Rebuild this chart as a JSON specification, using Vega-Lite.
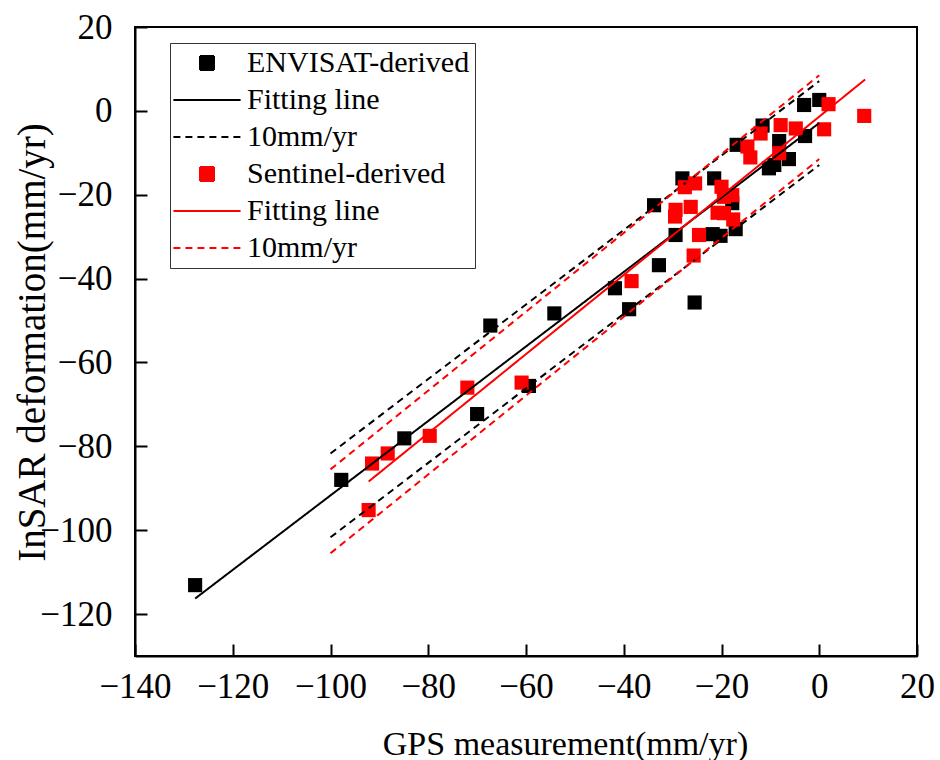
{
  "$schema": "https://vega.github.io/schema/vega-lite/v6.json",
  "width": 782,
  "height": 629,
  "autosize": {"type": "none"},
  "padding": {"left": 135, "top": 27, "right": 23, "bottom": 104},
  "background": "white",
  "config": {
    "font": "Liberation Serif",
    "view": {"stroke": "black", "strokeWidth": 2},
    "axis": {
      "domainColor": "black", "domainWidth": 2,
      "tickColor": "black", "tickWidth": 2, "tickSize": -12,
      "labelColor": "black", "labelFont": "Liberation Serif", "labelFontSize": 35, "labelOverlap": false, "labelFlush": false,
      "titleColor": "black", "titleFont": "Liberation Serif", "titleFontWeight": "normal",
      "grid": false
    }
  },
  "datasets": {
    "points": [
      {"gps": -127.7, "insar": -113.1, "series": "ENVISAT-derived"},
      {"gps": -97.8, "insar": -88.0, "series": "ENVISAT-derived"},
      {"gps": -84.9, "insar": -78.1, "series": "ENVISAT-derived"},
      {"gps": -70.0, "insar": -72.3, "series": "ENVISAT-derived"},
      {"gps": -67.3, "insar": -51.2, "series": "ENVISAT-derived"},
      {"gps": -59.4, "insar": -65.6, "series": "ENVISAT-derived"},
      {"gps": -54.2, "insar": -48.3, "series": "ENVISAT-derived"},
      {"gps": -41.8, "insar": -42.3, "series": "ENVISAT-derived"},
      {"gps": -38.9, "insar": -47.3, "series": "ENVISAT-derived"},
      {"gps": -33.8, "insar": -22.5, "series": "ENVISAT-derived"},
      {"gps": -32.8, "insar": -36.8, "series": "ENVISAT-derived"},
      {"gps": -29.4, "insar": -29.6, "series": "ENVISAT-derived"},
      {"gps": -28.0, "insar": -16.1, "series": "ENVISAT-derived"},
      {"gps": -25.5, "insar": -45.7, "series": "ENVISAT-derived"},
      {"gps": -21.8, "insar": -29.4, "series": "ENVISAT-derived"},
      {"gps": -21.5, "insar": -16.1, "series": "ENVISAT-derived"},
      {"gps": -20.2, "insar": -29.8, "series": "ENVISAT-derived"},
      {"gps": -17.8, "insar": -22.0, "series": "ENVISAT-derived"},
      {"gps": -17.1, "insar": -28.2, "series": "ENVISAT-derived"},
      {"gps": -16.9, "insar": -8.1, "series": "ENVISAT-derived"},
      {"gps": -11.6, "insar": -3.5, "series": "ENVISAT-derived"},
      {"gps": -10.3, "insar": -13.7, "series": "ENVISAT-derived"},
      {"gps": -9.2, "insar": -12.9, "series": "ENVISAT-derived"},
      {"gps": -8.2, "insar": -7.2, "series": "ENVISAT-derived"},
      {"gps": -6.2, "insar": -11.5, "series": "ENVISAT-derived"},
      {"gps": -3.1, "insar": 1.4, "series": "ENVISAT-derived"},
      {"gps": -2.9, "insar": -6.0, "series": "ENVISAT-derived"},
      {"gps": 0.0, "insar": 2.6, "series": "ENVISAT-derived"},
      {"gps": -92.2, "insar": -95.2, "series": "Sentinel-derived"},
      {"gps": -91.5, "insar": -84.1, "series": "Sentinel-derived"},
      {"gps": -88.3, "insar": -81.7, "series": "Sentinel-derived"},
      {"gps": -79.7, "insar": -77.5, "series": "Sentinel-derived"},
      {"gps": -72.0, "insar": -66.0, "series": "Sentinel-derived"},
      {"gps": -60.9, "insar": -64.8, "series": "Sentinel-derived"},
      {"gps": -38.4, "insar": -40.6, "series": "Sentinel-derived"},
      {"gps": -29.5, "insar": -25.2, "series": "Sentinel-derived"},
      {"gps": -29.4, "insar": -23.6, "series": "Sentinel-derived"},
      {"gps": -27.5, "insar": -18.2, "series": "Sentinel-derived"},
      {"gps": -26.3, "insar": -22.9, "series": "Sentinel-derived"},
      {"gps": -25.7, "insar": -34.5, "series": "Sentinel-derived"},
      {"gps": -25.4, "insar": -17.3, "series": "Sentinel-derived"},
      {"gps": -24.6, "insar": -29.6, "series": "Sentinel-derived"},
      {"gps": -20.8, "insar": -24.3, "series": "Sentinel-derived"},
      {"gps": -20.0, "insar": -18.1, "series": "Sentinel-derived"},
      {"gps": -19.5, "insar": -20.5, "series": "Sentinel-derived"},
      {"gps": -19.5, "insar": -24.4, "series": "Sentinel-derived"},
      {"gps": -17.8, "insar": -20.1, "series": "Sentinel-derived"},
      {"gps": -17.6, "insar": -25.9, "series": "Sentinel-derived"},
      {"gps": -14.7, "insar": -8.5, "series": "Sentinel-derived"},
      {"gps": -14.1, "insar": -11.1, "series": "Sentinel-derived"},
      {"gps": -12.0, "insar": -5.4, "series": "Sentinel-derived"},
      {"gps": -8.2, "insar": -10.1, "series": "Sentinel-derived"},
      {"gps": -7.9, "insar": -3.4, "series": "Sentinel-derived"},
      {"gps": -4.8, "insar": -4.2, "series": "Sentinel-derived"},
      {"gps": 1.0, "insar": -4.4, "series": "Sentinel-derived"},
      {"gps": 1.9, "insar": 1.6, "series": "Sentinel-derived"},
      {"gps": 9.2, "insar": -1.2, "series": "Sentinel-derived"}
    ],
    "lines": [
      {"gps": -127.7, "insar": -116.3, "series": "ENVISAT fitting line", "line": "E fit"},
      {"gps": 0.0, "insar": -2.9, "series": "ENVISAT fitting line", "line": "E fit"},
      {"gps": -100, "insar": -81.7, "series": "ENVISAT 10mm/yr", "line": "E up"},
      {"gps": 0, "insar": 7.1, "series": "ENVISAT 10mm/yr", "line": "E up"},
      {"gps": -100, "insar": -101.7, "series": "ENVISAT 10mm/yr", "line": "E low"},
      {"gps": 0, "insar": -12.9, "series": "ENVISAT 10mm/yr", "line": "E low"},
      {"gps": -92.2, "insar": -88.4, "series": "Sentinel fitting line", "line": "S fit"},
      {"gps": 9.4, "insar": 7.5, "series": "Sentinel fitting line", "line": "S fit"},
      {"gps": -100, "insar": -85.5, "series": "Sentinel 10mm/yr", "line": "S up"},
      {"gps": 0, "insar": 8.5, "series": "Sentinel 10mm/yr", "line": "S up"},
      {"gps": -100, "insar": -105.5, "series": "Sentinel 10mm/yr", "line": "S low"},
      {"gps": 0, "insar": -11.5, "series": "Sentinel 10mm/yr", "line": "S low"}
    ]
  },
  "layer": [
    {
      "data": {"name": "points"},
      "mark": {"type": "point", "filled": true, "size": 200, "opacity": 1, "strokeWidth": 0},
      "encoding": {
        "x": {"field": "gps", "type": "quantitative",
              "scale": {"domain": [-140, 20], "nice": false, "zero": false},
              "axis": {"title": "GPS measurement(mm/yr)", "values": [-140, -120, -100, -80, -60, -40, -20, 0, 20],
                       "labelPadding": 25, "titleFontSize": 34, "titleX": 430, "titleY": 98, "titleBaseline": "alphabetic", "titleAlign": "center", "titleAnchor": null}},
        "y": {"field": "insar", "type": "quantitative",
              "scale": {"domain": [-130, 20], "nice": false, "zero": false},
              "axis": {"title": "InSAR deformation(mm/yr)", "values": [-120, -100, -80, -60, -40, -20, 0, 20],
                       "labelPadding": 35, "titleFontSize": 39, "titleX": -91, "titleY": 315, "titleAngle": 270, "titleBaseline": "alphabetic", "titleAlign": "center", "titleAnchor": null}},
        "color": {"field": "series", "type": "nominal",
          "scale": {"domain": ["ENVISAT-derived", "ENVISAT fitting line", "ENVISAT 10mm/yr", "Sentinel-derived", "Sentinel fitting line", "Sentinel 10mm/yr"],
                    "range": ["#000000", "#000000", "#000000", "#ff0000", "#ff0000", "#ff0000"]},
          "legend": {
            "title": null,
            "orient": "none",
            "legendX": 35,
            "legendY": 16,
            "direction": "vertical",
            "labelFont": "Liberation Serif",
            "labelFontSize": 30,
            "labelColor": "black",
            "labelLimit": 400,
            "labelOffset": 25,
            "labelExpr": "indexof(datum.label, 'fitting') >= 0 ? 'Fitting line' : (indexof(datum.label, '10mm') >= 0 ? '10mm/yr' : datum.label)",
            "symbolSize": 196,
            "symbolOffset": 17,
            "symbolStrokeWidth": 2,
            "symbolOpacity": 1,
            "fillColor": "white",
            "strokeColor": "#333333",
            "padding": 5,
            "rowPadding": 7
          }
        },
        "shape": {"field": "series", "type": "nominal",
          "scale": {"domain": ["ENVISAT-derived", "ENVISAT fitting line", "ENVISAT 10mm/yr", "Sentinel-derived", "Sentinel fitting line", "Sentinel 10mm/yr"],
                    "range": ["square", "M-4.8,0H4.8", "M-4.8,0H4.8", "square", "M-4.8,0H4.8", "M-4.8,0H4.8"]}}
      }
    },
    {
      "data": {"name": "lines"},
      "mark": {"type": "line", "strokeWidth": 2},
      "encoding": {
        "x": {"field": "gps", "type": "quantitative"},
        "y": {"field": "insar", "type": "quantitative"},
        "color": {"field": "series", "type": "nominal"},
        "detail": {"field": "line", "type": "nominal"},
        "strokeDash": {"field": "series", "type": "nominal",
          "scale": {"domain": ["ENVISAT-derived", "ENVISAT fitting line", "ENVISAT 10mm/yr", "Sentinel-derived", "Sentinel fitting line", "Sentinel 10mm/yr"],
                    "range": [[1, 0], [1, 0], [7, 5], [1, 0], [1, 0], [7, 5]]},
          "legend": null}
      }
    }
  ]
}
